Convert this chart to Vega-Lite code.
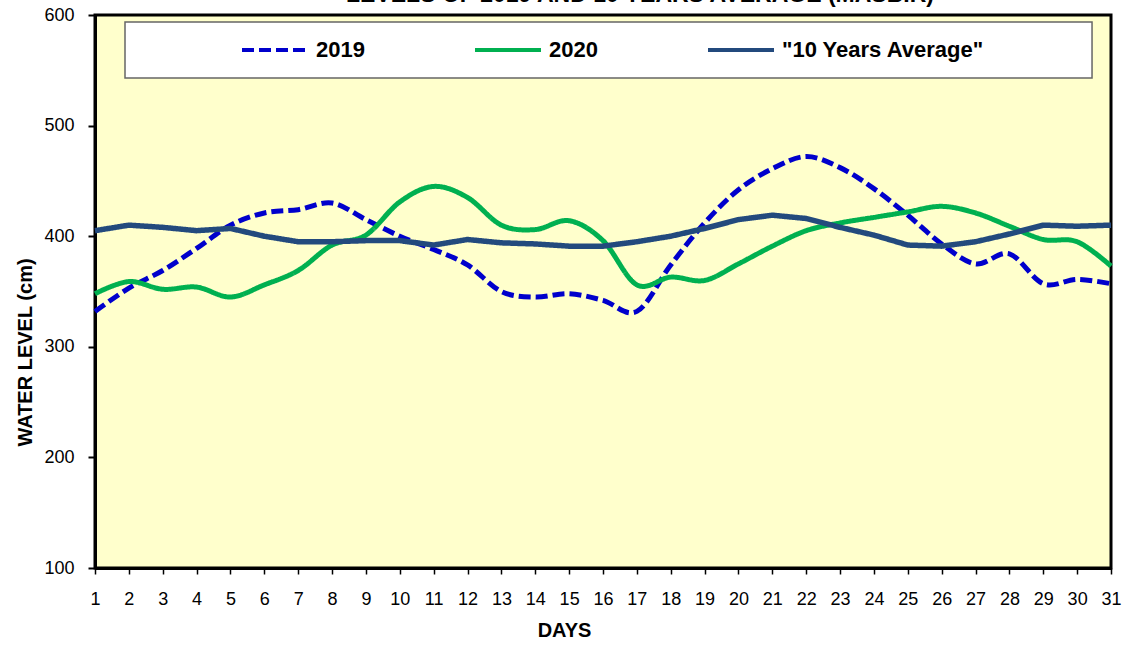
{
  "$schema": "https://vega.github.io/schema/vega-lite/v6.json",
  "width": 1016,
  "height": 553,
  "autosize": {"type": "none"},
  "padding": {"left": 95, "top": 15, "right": 14, "bottom": 86},
  "background": "white",
  "title": {
    "text": "LEVELS OF 2019 AND 10 YEARS AVERAGE (MASBIR)",
    "fontSize": 23,
    "fontWeight": "bold",
    "font": "Liberation Sans",
    "color": "black",
    "anchor": "middle",
    "dx": 37,
    "dy": 19,
    "offset": 0,
    "baseline": "alphabetic"
  },
  "config": {
    "font": "Liberation Sans",
    "view": {"fill": "#FFFFCC", "stroke": "black", "strokeWidth": 3}
  },
  "data": {
    "values": [
      {"day": 1, "series": "2019", "level": 332},
      {"day": 2, "series": "2019", "level": 353},
      {"day": 3, "series": "2019", "level": 369},
      {"day": 4, "series": "2019", "level": 389},
      {"day": 5, "series": "2019", "level": 410},
      {"day": 6, "series": "2019", "level": 421},
      {"day": 7, "series": "2019", "level": 424},
      {"day": 8, "series": "2019", "level": 430},
      {"day": 9, "series": "2019", "level": 415},
      {"day": 10, "series": "2019", "level": 400},
      {"day": 11, "series": "2019", "level": 388},
      {"day": 12, "series": "2019", "level": 374},
      {"day": 13, "series": "2019", "level": 350},
      {"day": 14, "series": "2019", "level": 345},
      {"day": 15, "series": "2019", "level": 348},
      {"day": 16, "series": "2019", "level": 342},
      {"day": 17, "series": "2019", "level": 332},
      {"day": 18, "series": "2019", "level": 374},
      {"day": 19, "series": "2019", "level": 412},
      {"day": 20, "series": "2019", "level": 442},
      {"day": 21, "series": "2019", "level": 461},
      {"day": 22, "series": "2019", "level": 472},
      {"day": 23, "series": "2019", "level": 462},
      {"day": 24, "series": "2019", "level": 443},
      {"day": 25, "series": "2019", "level": 419},
      {"day": 26, "series": "2019", "level": 393},
      {"day": 27, "series": "2019", "level": 375},
      {"day": 28, "series": "2019", "level": 384},
      {"day": 29, "series": "2019", "level": 357},
      {"day": 30, "series": "2019", "level": 361},
      {"day": 31, "series": "2019", "level": 357},
      {"day": 1, "series": "2020", "level": 348},
      {"day": 2, "series": "2020", "level": 359},
      {"day": 3, "series": "2020", "level": 352},
      {"day": 4, "series": "2020", "level": 354},
      {"day": 5, "series": "2020", "level": 345},
      {"day": 6, "series": "2020", "level": 356},
      {"day": 7, "series": "2020", "level": 369},
      {"day": 8, "series": "2020", "level": 392},
      {"day": 9, "series": "2020", "level": 401},
      {"day": 10, "series": "2020", "level": 431},
      {"day": 11, "series": "2020", "level": 445},
      {"day": 12, "series": "2020", "level": 435},
      {"day": 13, "series": "2020", "level": 410},
      {"day": 14, "series": "2020", "level": 406},
      {"day": 15, "series": "2020", "level": 414},
      {"day": 16, "series": "2020", "level": 396},
      {"day": 17, "series": "2020", "level": 356},
      {"day": 18, "series": "2020", "level": 363},
      {"day": 19, "series": "2020", "level": 360},
      {"day": 20, "series": "2020", "level": 375},
      {"day": 21, "series": "2020", "level": 391},
      {"day": 22, "series": "2020", "level": 405},
      {"day": 23, "series": "2020", "level": 412},
      {"day": 24, "series": "2020", "level": 417},
      {"day": 25, "series": "2020", "level": 422},
      {"day": 26, "series": "2020", "level": 427},
      {"day": 27, "series": "2020", "level": 421},
      {"day": 28, "series": "2020", "level": 409},
      {"day": 29, "series": "2020", "level": 397},
      {"day": 30, "series": "2020", "level": 395},
      {"day": 31, "series": "2020", "level": 373},
      {"day": 1, "series": "\"10 Years Average\"", "level": 405},
      {"day": 2, "series": "\"10 Years Average\"", "level": 410},
      {"day": 3, "series": "\"10 Years Average\"", "level": 408},
      {"day": 4, "series": "\"10 Years Average\"", "level": 405},
      {"day": 5, "series": "\"10 Years Average\"", "level": 407},
      {"day": 6, "series": "\"10 Years Average\"", "level": 400},
      {"day": 7, "series": "\"10 Years Average\"", "level": 395},
      {"day": 8, "series": "\"10 Years Average\"", "level": 395},
      {"day": 9, "series": "\"10 Years Average\"", "level": 396},
      {"day": 10, "series": "\"10 Years Average\"", "level": 396},
      {"day": 11, "series": "\"10 Years Average\"", "level": 392},
      {"day": 12, "series": "\"10 Years Average\"", "level": 397},
      {"day": 13, "series": "\"10 Years Average\"", "level": 394},
      {"day": 14, "series": "\"10 Years Average\"", "level": 393},
      {"day": 15, "series": "\"10 Years Average\"", "level": 391},
      {"day": 16, "series": "\"10 Years Average\"", "level": 391},
      {"day": 17, "series": "\"10 Years Average\"", "level": 395},
      {"day": 18, "series": "\"10 Years Average\"", "level": 400},
      {"day": 19, "series": "\"10 Years Average\"", "level": 407},
      {"day": 20, "series": "\"10 Years Average\"", "level": 415},
      {"day": 21, "series": "\"10 Years Average\"", "level": 419},
      {"day": 22, "series": "\"10 Years Average\"", "level": 416},
      {"day": 23, "series": "\"10 Years Average\"", "level": 408},
      {"day": 24, "series": "\"10 Years Average\"", "level": 401},
      {"day": 25, "series": "\"10 Years Average\"", "level": 392},
      {"day": 26, "series": "\"10 Years Average\"", "level": 391},
      {"day": 27, "series": "\"10 Years Average\"", "level": 395},
      {"day": 28, "series": "\"10 Years Average\"", "level": 402},
      {"day": 29, "series": "\"10 Years Average\"", "level": 410},
      {"day": 30, "series": "\"10 Years Average\"", "level": 409},
      {"day": 31, "series": "\"10 Years Average\"", "level": 410}
    ]
  },
  "layer": [
    {
      "transform": [{"filter": "datum.series !== '\"10 Years Average\"'"}],
      "mark": {"type": "line", "interpolate": "cardinal", "tension": 0, "strokeWidth": 5},
      "encoding": {
        "x": {"field": "day", "type": "quantitative", "scale": {"domain": [1, 31], "nice": false, "zero": false},
          "axis": {"title": "DAYS", "values": [1,2,3,4,5,6,7,8,9,10,11,12,13,14,15,16,17,18,19,20,21,22,23,24,25,26,27,28,29,30,31], "tickCount": 31, "format": "d", "grid": false,
            "labelOverlap": false, "labelFontSize": 18, "labelColor": "black", "labelPadding": 16, "labelFlush": false, "tickSize": 6, "tickColor": "black", "tickWidth": 1.5,
            "domainColor": "black", "domainWidth": 3, "titleFontSize": 20, "titleFontWeight": "bold", "titleColor": "black", "titlePadding": 12, "titleX": 469}},
        "y": {"field": "level", "type": "quantitative", "scale": {"domain": [100, 600], "nice": false, "zero": false},
          "axis": {"title": "WATER LEVEL (cm)", "values": [100, 200, 300, 400, 500, 600], "grid": false,
            "labelFontSize": 18, "labelColor": "black", "labelPadding": 14, "tickSize": 7, "tickColor": "black", "tickWidth": 2,
            "domainColor": "black", "domainWidth": 3, "titleFontSize": 20, "titleFontWeight": "bold", "titleColor": "black", "titlePadding": 8, "titleY": 337}},
        "color": {"field": "series", "type": "nominal",
          "scale": {"domain": ["2019", "2020", "\"10 Years Average\""], "range": ["#0000CC", "#00B050", "#234A7D"]},
          "legend": {"title": null, "orient": "none", "legendX": 145, "legendY": 0, "direction": "horizontal", "columns": 3, "columnPadding": 102,
            "symbolType": "stroke", "symbolSize": 4356, "symbolStrokeWidth": 4, "labelFontSize": 22, "labelFontWeight": "bold", "labelColor": "black",
            "labelOffset": 6, "labelLimit": 400, "padding": 0}},
        "strokeDash": {"field": "series", "type": "nominal",
          "scale": {"domain": ["2019", "2020", "\"10 Years Average\""], "range": [[12, 5], [1, 0], [1, 0]]},
          "legend": {"title": null, "orient": "none", "legendX": 145, "legendY": 0, "direction": "horizontal", "columns": 3, "columnPadding": 102,
            "symbolType": "stroke", "symbolSize": 4356, "symbolStrokeWidth": 4, "labelFontSize": 22, "labelFontWeight": "bold", "labelColor": "black",
            "labelOffset": 6, "labelLimit": 400, "padding": 0}}
      }
    },
    {
      "transform": [{"filter": "datum.series === '\"10 Years Average\"'"}],
      "mark": {"type": "line", "interpolate": "linear", "strokeWidth": 5.5},
      "encoding": {
        "x": {"field": "day", "type": "quantitative"},
        "y": {"field": "level", "type": "quantitative"},
        "color": {"field": "series", "type": "nominal"},
        "strokeDash": {"field": "series", "type": "nominal"}
      }
    },
    {
      "data": {"values": [{}]},
      "mark": {"type": "rect", "fill": "white", "stroke": "#666666", "strokeWidth": 1.5},
      "encoding": {
        "x": {"datum": 1.886, "type": "quantitative"},
        "x2": {"datum": 30.44},
        "y": {"datum": 593.7, "type": "quantitative"},
        "y2": {"datum": 543}
      }
    }
  ]
}
